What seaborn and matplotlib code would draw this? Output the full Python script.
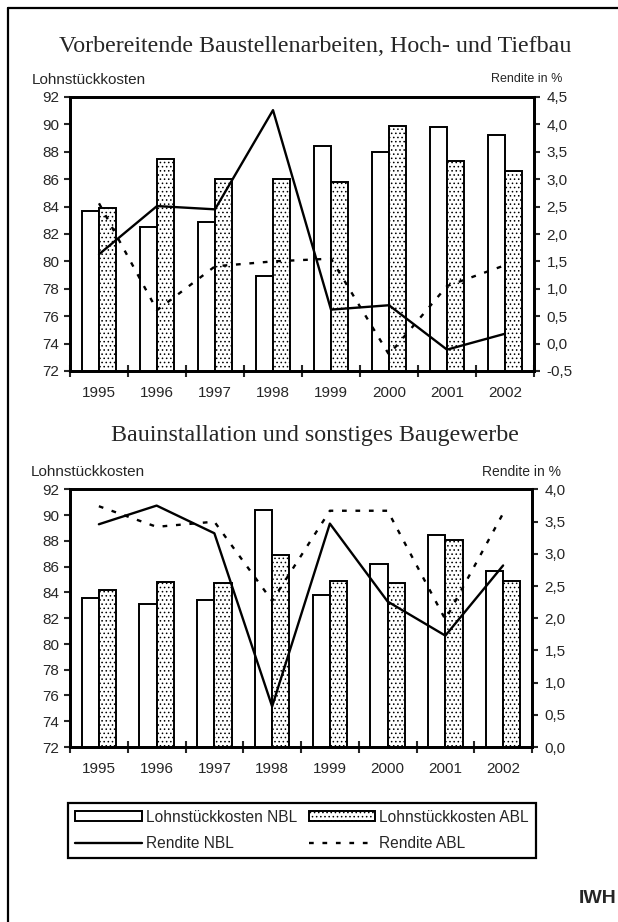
import numpy as np
import pandas as pd
import matplotlib
matplotlib.use("Agg")
import matplotlib.pyplot as plt
import seaborn as sns
from matplotlib.patches import Patch
from matplotlib.lines import Line2D
from matplotlib.ticker import FuncFormatter, FixedLocator

# ---------------- data ----------------
years = ["1995", "1996", "1997", "1998", "1999", "2000", "2001", "2002"]

top_title = "Vorbereitende Baustellenarbeiten, Hoch- und Tiefbau"
top_lsk_nbl = [83.7, 82.5, 82.9, 78.9, 88.4, 88.0, 89.8, 89.2]
top_lsk_abl = [83.9, 87.5, 86.0, 86.0, 85.8, 89.9, 87.3, 86.6]
top_ren_nbl = [1.63, 2.51, 2.45, 4.26, 0.62, 0.70, -0.11, 0.18]
top_ren_abl = [2.56, 0.61, 1.41, 1.50, 1.55, -0.20, 1.05, 1.43]

bot_title = "Bauinstallation und sonstiges Baugewerbe"
bot_lsk_nbl = [83.6, 83.1, 83.4, 90.4, 83.8, 86.2, 88.5, 85.7]
bot_lsk_abl = [84.2, 84.8, 84.7, 86.9, 84.9, 84.7, 88.1, 84.9]
bot_ren_nbl = [3.46, 3.75, 3.32, 0.63, 3.47, 2.26, 1.73, 2.82]
bot_ren_abl = [3.74, 3.42, 3.50, 2.27, 3.67, 3.67, 1.98, 3.63]

left_ticks = [72, 74, 76, 78, 80, 82, 84, 86, 88, 90, 92]
top_right_ticks = [-0.5, 0.0, 0.5, 1.0, 1.5, 2.0, 2.5, 3.0, 3.5, 4.0, 4.5]
bot_right_ticks = [0.0, 0.5, 1.0, 1.5, 2.0, 2.5, 3.0, 3.5, 4.0]

lab_lsk_nbl = "Lohnstückkosten NBL"
lab_lsk_abl = "Lohnstückkosten ABL"
lab_ren_nbl = "Rendite NBL"
lab_ren_abl = "Rendite ABL"

# ---------------- style ----------------
sns.set_style("white")
plt.rcParams["font.family"] = ["Liberation Sans", "DejaVu Sans"]
plt.rcParams["hatch.linewidth"] = 0.6
plt.rcParams["hatch.color"] = "black"

W, H = 618, 922
fig = plt.figure(figsize=(W / 100, H / 100), dpi=100)

HATCH = "...."
DASH = (0, (2.0, 3.7))
DASH_LW = 1.7
SOLID_LW = 1.7
SERIF = ["Liberation Serif", "DejaVu Serif"]


def fx(px):
    return px / W


def fy(py):
    return 1 - py / H


def comma(v, p):
    return f"{v:.1f}".replace(".", ",")


def panel(rect, lsk_nbl, lsk_abl, ren_nbl, ren_abl, rticks):
    ax = fig.add_axes(rect)
    df = pd.DataFrame({
        "year": years * 2,
        "value": lsk_nbl + lsk_abl,
        "series": [lab_lsk_nbl] * len(years) + [lab_lsk_abl] * len(years),
    })
    sns.barplot(data=df, x="year", y="value", hue="series",
                palette=["white", "white"], edgecolor="black", linewidth=1.4,
                width=0.6, saturation=1, ax=ax, legend=False, zorder=2)
    for bar in ax.containers[1]:
        bar.set_hatch(HATCH)
    ax.set_ylim(left_ticks[0], left_ticks[-1])
    ax.set_yticks(left_ticks)
    ax.set_xlim(-0.5, len(years) - 0.5)
    ax.set_xlabel("")
    ax.set_ylabel("")

    ax2 = ax.twinx()
    xs = np.arange(len(years))
    sns.lineplot(x=xs, y=ren_nbl, ax=ax2, color="black", linewidth=SOLID_LW)
    sns.lineplot(x=xs, y=ren_abl, ax=ax2, color="black", linewidth=DASH_LW,
                 linestyle=DASH)
    ax2.set_ylim(rticks[0], rticks[-1])
    ax2.set_yticks(rticks)
    ax2.yaxis.set_major_formatter(FuncFormatter(comma))
    ax2.set_ylabel("")
    ax2.set_xlim(-0.5, len(years) - 0.5)

    # x ticks: labels at centres, tick marks at boundaries
    ax.xaxis.set_major_locator(FixedLocator(list(range(len(years)))))
    ax.set_xticklabels(years)
    ax.xaxis.set_minor_locator(FixedLocator(list(np.arange(-0.5, len(years), 1.0))))
    ax.tick_params(axis="x", which="major", length=0, pad=11, labelsize=11)
    ax.tick_params(axis="x", which="minor", direction="inout", length=8, width=1.5,
                   bottom=True)
    ax.tick_params(axis="y", direction="out", length=4, width=1.5, pad=4,
                   labelsize=11, left=True)
    ax2.tick_params(axis="y", direction="out", length=4, width=1.5, pad=5,
                    labelsize=11, right=True)
    for a in (ax, ax2):
        for s in a.spines.values():
            s.set_linewidth(2)
            s.set_color("black")
            s.set_visible(True)
    return ax, ax2


panel([fx(70), fy(371), fx(534) - fx(70), fy(97) - fy(371)],
      top_lsk_nbl, top_lsk_abl, top_ren_nbl, top_ren_abl, top_right_ticks)
panel([fx(70), fy(747), fx(532) - fx(70), fy(489.5) - fy(747)],
      bot_lsk_nbl, bot_lsk_abl, bot_ren_nbl, bot_ren_abl, bot_right_ticks)

# titles and axis captions
fig.text(fx(315), fy(51.5), top_title, family=SERIF, fontsize=17.3,
         ha="center", va="baseline")
fig.text(fx(315), fy(441.5), bot_title, family=SERIF, fontsize=17.3,
         ha="center", va="baseline")
fig.text(fx(32), fy(84), "Lohnstückkosten", fontsize=11, ha="left", va="baseline")
fig.text(fx(562), fy(82), "Rendite in %", fontsize=9, ha="right", va="baseline")
fig.text(fx(31), fy(476), "Lohnstückkosten", fontsize=11, ha="left", va="baseline")
fig.text(fx(561), fy(476), "Rendite in %", fontsize=10, ha="right", va="baseline")
fig.text(fx(616), fy(903), "IWH", fontsize=14, fontweight="bold",
         ha="right", va="baseline")

# legend
handles = [
    Patch(facecolor="white", edgecolor="black", linewidth=1.4),
    Line2D([], [], color="black", linewidth=SOLID_LW),
    Patch(facecolor="white", edgecolor="black", linewidth=1.4, hatch=HATCH),
    Line2D([], [], color="black", linewidth=DASH_LW, linestyle=DASH),
]
labels = [lab_lsk_nbl, lab_ren_nbl, lab_lsk_abl, lab_ren_abl]
leg = fig.legend(handles, labels, ncol=2, mode="expand", loc="center",
                 bbox_to_anchor=(fx(68), fy(858), fx(536) - fx(68), fy(803) - fy(858)),
                 borderaxespad=0, fontsize=11.2, handlelength=4.3, handleheight=0.55,
                 handletextpad=0.25, labelspacing=0.75, borderpad=0.45,
                 fancybox=False, framealpha=1, edgecolor="black")
leg.get_frame().set_linewidth(1.6)

# outer frame (right and bottom edges fall outside the image)
fig.add_artist(Line2D([fx(8), 1.02], [fy(8), fy(8)], color="black", linewidth=1.6,
                      transform=fig.transFigure))
fig.add_artist(Line2D([fx(8), fx(8)], [fy(8), -0.02], color="black", linewidth=1.6,
                      transform=fig.transFigure))

fig.savefig("out.png", dpi=100)
